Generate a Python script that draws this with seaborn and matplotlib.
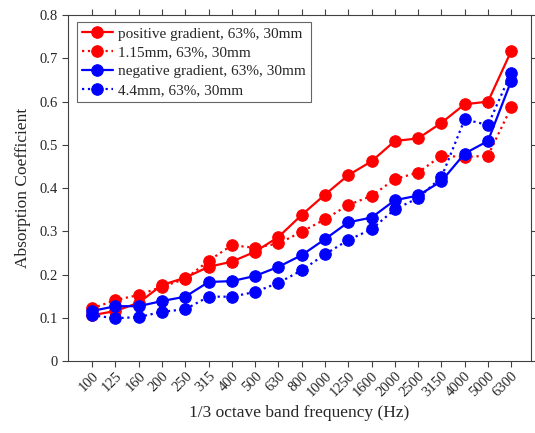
import numpy as np
import pandas as pd
import seaborn as sns
import matplotlib.pyplot as plt

freqs = ['100', '125', '160', '200', '250', '315', '400', '500', '630', '800',
         '1000', '1250', '1600', '2000', '2500', '3150', '4000', '5000', '6300']

pos_grad = [0.106, 0.116, 0.135, 0.176, 0.193, 0.218, 0.230, 0.253, 0.287, 0.338,
            0.385, 0.430, 0.462, 0.509, 0.515, 0.551, 0.594, 0.600, 0.717]
mm115 = [0.122, 0.141, 0.153, 0.172, 0.190, 0.232, 0.268, 0.262, 0.272, 0.299,
         0.328, 0.361, 0.382, 0.421, 0.436, 0.475, 0.472, 0.475, 0.587]
neg_grad = [0.116, 0.127, 0.127, 0.139, 0.149, 0.183, 0.185, 0.197, 0.218, 0.245,
            0.282, 0.321, 0.332, 0.372, 0.383, 0.416, 0.480, 0.509, 0.648]
mm44 = [0.106, 0.099, 0.102, 0.114, 0.120, 0.149, 0.149, 0.160, 0.181, 0.210,
        0.247, 0.280, 0.305, 0.351, 0.377, 0.425, 0.559, 0.546, 0.667]

labels = ['positive gradient, 63%, 30mm', '1.15mm, 63%, 30mm',
          'negative gradient, 63%, 30mm', '4.4mm, 63%, 30mm']
series = [pos_grad, mm115, neg_grad, mm44]
colors = ['#FF0000', '#FF0000', '#0000FF', '#0000FF']
styles = ['-', ':', '-', ':']

sns.set_style('white')
plt.rcParams['font.family'] = ['Liberation Serif', 'DejaVu Serif']

fig = plt.figure(figsize=(5.35, 4.33), dpi=100)
ax = fig.add_axes([0.127, 0.166, 0.866, 0.799])

idx = np.arange(len(freqs))
for vals, lab, c, ls in zip(series, labels, colors, styles):
    df = pd.DataFrame({'f': idx, 'a': vals})
    sns.lineplot(data=df, x='f', y='a', ax=ax, color=c, linestyle=ls,
                 linewidth=1.6, marker='o', markersize=8.3,
                 markeredgecolor=c, label=lab)

ax.set_xlim(-1.04, 18.86)
ax.set_ylim(0, 0.8)
ax.set_xticks(idx)
ax.set_xticklabels(freqs, rotation=45, ha='right', rotation_mode='anchor',
                   fontsize=10.5)
ax.set_yticks(np.arange(0, 0.81, 0.1))
ax.set_yticklabels(['0', '0.1', '0.2', '0.3', '0.4', '0.5', '0.6', '0.7', '0.8'],
                   fontsize=10.5)
ax.tick_params(direction='out', length=4, width=0.8, color='#404040',
               top=True, right=True, bottom=True, left=True)
ax.tick_params(axis='x', pad=2)
for s in ax.spines.values():
    s.set_visible(True)
    s.set_color('#404040')
    s.set_linewidth(0.8)

ax.set_xlabel('1/3 octave band frequency (Hz)', fontsize=12.5, labelpad=4)
ax.set_ylabel('Absorption Coefficient', fontsize=12.5, labelpad=6)

leg = ax.legend(loc='upper left', fontsize=11, frameon=True, fancybox=False,
                edgecolor='#404040', handlelength=2.0, borderpad=0.35,
                labelspacing=0.33, handletextpad=0.35, borderaxespad=0,
                bbox_to_anchor=(0.019, 0.981))
leg.get_frame().set_linewidth(0.8)

fig.savefig('out.png', dpi=100)
